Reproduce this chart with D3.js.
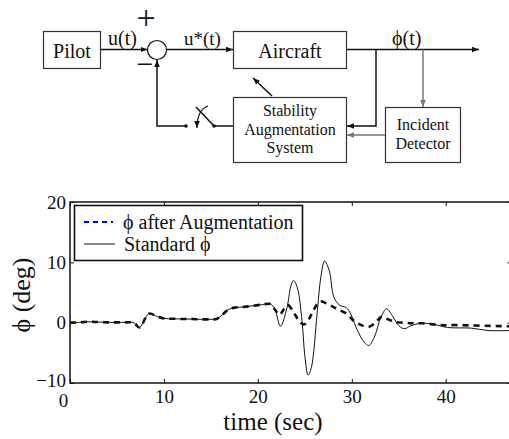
<!DOCTYPE html>
<html>
<head>
<meta charset="utf-8">
<script src="https://cdn.jsdelivr.net/npm/d3@7"></script>
<style>
  html, body { margin: 0; padding: 0; background: #fff; }
</style>
</head>
<body>
<svg id="fig" width="509" height="439"></svg>
<script>
// Roll angle response: standard vs. with stability augmentation
const timeStd = [0, 1, 2, 3, 4, 5, 6, 6.8, 7.4, 8.4, 9.3, 10, 11, 12, 13, 14, 15, 15.6, 16.2, 16.9, 17.6, 18.5, 19.5, 20.5, 21.3,
  21.8, 22.4, 23.1, 23.5, 23.8, 24.2, 24.7, 25.0, 25.35, 25.7, 26.3, 26.7, 27.1, 27.6, 28.1, 28.7, 29.4, 29.9, 30.6, 31.3,
  31.8, 32.4, 33.1, 33.7, 34.3, 35.0, 35.6, 36.3, 37.4, 38.8, 40.2, 42.7, 44.5, 47];
const phiStd = [0, 0.05, 0.15, 0.1, 0.05, 0.05, 0.05, 0, -0.8, 1.5, 1.0, 0.7, 0.65, 0.6, 0.6, 0.55, 0.55, 0.6, 1.3, 2.2, 2.5, 2.6, 2.8, 3.0, 3.1,
  2.3, -0.6, 2.5, 6.0, 7.0, 5.8, 0.3, -5.5, -8.7, -7.4, 1.4, 7.5, 10.2, 8.6, 4.2, 2.9, 2.5, 1.4, -1.3, -3.2,
  -3.8, -2.4, 0.9, 2.3, 1.2, -0.5, -1.0, -0.5, -0.1, -0.3, -0.8, -0.9, -1.3, -1.3];

const timeAug = [0, 1, 2, 3, 4, 5, 6, 6.8, 7.4, 8.4, 9.3, 10, 11, 12, 13, 14, 15, 15.6, 16.2, 16.9, 17.6, 18.5, 19.5, 20.5, 21.3,
  21.8, 22.3, 22.8, 23.2, 23.7, 24.3, 24.9, 25.4, 25.9, 26.6, 27.3, 28.4, 29.5, 30.2, 31.0, 31.8, 32.5, 33.2, 33.8, 34.6,
  35.5, 36.5, 37.5, 39.4, 41.2, 43.7, 47];
const phiAug = [0, 0.05, 0.15, 0.1, 0.05, 0.05, 0.05, 0, -0.8, 1.5, 1.0, 0.7, 0.65, 0.6, 0.6, 0.55, 0.55, 0.6, 1.3, 2.2, 2.5, 2.6, 2.8, 3.0, 3.1,
  2.2, 1.3, 2.3, 2.9, 2.0, 0.5, -0.3, 0.5, 2.0, 3.5, 3.2, 2.3, 1.4, 0.3, -0.4, -0.7, 0.0, 1.0, 0.6, 0.1,
  0.0, -0.1, -0.1, -0.4, -0.4, -0.5, -0.6];

const xTicks = [0, 10, 20, 30, 40];
const yTicks = [-10, 0, 10, 20];
const legendLabels = ["\u03d5 after Augmentation", "Standard \u03d5"];

const svg = d3.select("#fig");
const serif = "Liberation Serif";

// ---------- block diagram ----------
const diag = svg.append("g");
const ink = "#111", grey = "#777";

const defs = svg.append("defs");
function marker(id, color) {
  defs.append("marker").attr("id", id).attr("viewBox", "0 0 10 10")
    .attr("refX", 10).attr("refY", 5).attr("markerWidth", 7).attr("markerHeight", 7)
    .attr("markerUnits", "userSpaceOnUse").attr("orient", "auto")
    .append("path").attr("d", "M0,1 L10,5 L0,9 Z").attr("fill", color);
}
marker("arrK", ink);
marker("arrG", grey);

function box(x, y, w, h) {
  diag.append("rect").attr("x", x).attr("y", y).attr("width", w).attr("height", h)
    .attr("fill", "none").attr("stroke", "#333").attr("stroke-width", 1.2);
}
function wire(pts, color, arrow) {
  diag.append("path").attr("d", d3.line()(pts)).attr("fill", "none")
    .attr("stroke", color).attr("stroke-width", 1.5)
    .attr("marker-end", arrow ? `url(#${color === grey ? "arrG" : "arrK"})` : null);
}
function label(txt, x, y, size, anchor) {
  diag.append("text").attr("x", x).attr("y", y).attr("font-size", size)
    .attr("font-family", serif)
    .attr("text-anchor", anchor || "middle").attr("fill", ink).text(txt);
}

box(43.5, 31.5, 57, 37);
box(233.5, 31.5, 113, 37);
box(233.5, 97.5, 113, 65);
box(385.5, 107.5, 75, 55);

label("Pilot", 72, 58, 20);
label("Aircraft", 290, 58, 20);
label("Stability", 290, 116, 16);
label("Augmentation", 290, 135, 16);
label("System", 290, 153, 16);
label("Incident", 423, 130, 16);
label("Detector", 423, 149, 16);
label("u(t)", 108, 45, 20, "start");
label("u*(t)", 184, 45, 19, "start");
label("\u03d5(t)", 392, 45, 20, "start");
label("+", 146, 29, 34);
label("\u2212", 145, 74, 30);

// summing junction
diag.append("circle").attr("cx", 157).attr("cy", 50).attr("r", 9.5)
  .attr("fill", "none").attr("stroke", ink).attr("stroke-width", 1.2);

wire([[101, 49.5], [147.5, 49.5]], ink, true);
wire([[166.5, 49.5], [233, 49.5]], ink, true);
wire([[347, 49.5], [479, 49.5]], ink, true);
wire([[376, 49.5], [376, 126], [347, 126]], ink, true);
wire([[423, 49.5], [423, 107]], grey, true);
wire([[385, 135], [347, 135]], grey, true);
wire([[272, 96], [253, 78]], ink, true);
// feedback path through the engage switch
wire([[233, 126], [214, 126]], ink, false);
wire([[214, 126], [196, 107]], ink, false);
wire([[186, 126], [157, 126], [157, 60]], ink, true);
diag.append("circle").attr("cx", 186).attr("cy", 126).attr("r", 1.8).attr("fill", ink);
diag.append("circle").attr("cx", 214).attr("cy", 126).attr("r", 1.8).attr("fill", ink);
diag.append("path").attr("d", "M208,106 Q197,110 197,128").attr("fill", "none")
  .attr("stroke", ink).attr("stroke-width", 1.2).attr("marker-end", "url(#arrK)");

// ---------- time response plot ----------
const pL = 70, pR = 511.5, pT = 202, pB = 383;
const x = d3.scaleLinear().domain([0, 47]).range([pL, pR]);
const y = d3.scaleLinear().domain([-10, 20]).range([pB, pT]);

const plot = svg.append("g");

function styleAxis(g) {
  g.attr("font-family", serif).attr("font-size", 19);
  g.select(".domain").remove();
  g.selectAll(".tick line").attr("stroke", ink).attr("stroke-width", 1);
  g.selectAll(".tick text").attr("font-family", serif).attr("font-size", 19).attr("fill", ink);
}

plot.append("g").attr("transform", `translate(0,${pB})`)
  .call(d3.axisBottom(x).tickValues(xTicks).tickSize(-4).tickPadding(7).tickFormat(d3.format("d")))
  .call(styleAxis)
  .call(g => g.selectAll(".tick text").filter(d => d === 0).attr("dx", -7).attr("dy", "0.9em"));
plot.append("g").attr("transform", `translate(0,${pT})`)
  .call(d3.axisTop(x).tickValues(xTicks).tickSize(-4).tickFormat(""))
  .call(styleAxis);
plot.append("g").attr("transform", `translate(${pL},0)`)
  .call(d3.axisLeft(y).tickValues(yTicks).tickSize(-4).tickPadding(4)
    .tickFormat(d => d < 0 ? "\u2212" + Math.abs(d) : d))
  .call(styleAxis)
  .call(g => g.selectAll(".tick text").filter(d => d === -10).attr("dy", "0.2em"));
plot.append("g").attr("transform", `translate(${pR},0)`)
  .call(d3.axisRight(y).tickValues(yTicks).tickSize(-4).tickFormat(""))
  .call(styleAxis);

plot.append("rect").attr("x", pL).attr("y", pT).attr("width", pR - pL).attr("height", pB - pT)
  .attr("fill", "none").attr("stroke", ink).attr("stroke-width", 1.5);

const line = d3.line().x(d => x(d[0])).y(d => y(d[1])).curve(d3.curveCatmullRom.alpha(0.5));

plot.append("path").datum(d3.zip(timeStd, phiStd)).attr("d", line)
  .attr("fill", "none").attr("stroke", ink).attr("stroke-width", 1);
plot.append("path").datum(d3.zip(timeAug, phiAug)).attr("d", line)
  .attr("fill", "none").attr("stroke", ink).attr("stroke-width", 2.6).attr("stroke-dasharray", "6,5");

// legend
const lg = plot.append("g");
lg.append("rect").attr("x", 74.5).attr("y", 205.5).attr("width", 228).attr("height", 55)
  .attr("fill", "#fff").attr("stroke", ink).attr("stroke-width", 1.6);
lg.append("line").attr("x1", 84).attr("x2", 113).attr("y1", 222).attr("y2", 222)
  .attr("stroke", "#0000ff").attr("stroke-width", 2.2).attr("stroke-dasharray", "5,4");
lg.append("line").attr("x1", 84).attr("x2", 115).attr("y1", 244).attr("y2", 244)
  .attr("stroke", ink).attr("stroke-width", 1);
lg.selectAll("text.lab").data(legendLabels).join("text").attr("class", "lab")
  .attr("x", (d, i) => i === 0 ? 123 : 124).attr("y", (d, i) => i === 0 ? 229 : 251)
  .attr("font-family", serif).attr("font-size", 20).attr("fill", ink).text(d => d);

// axis titles
plot.append("text").attr("x", 273).attr("y", 430).attr("text-anchor", "middle")
  .attr("font-family", serif).attr("font-size", 25).attr("fill", ink).text("time (sec)");
plot.append("text").attr("transform", "translate(30,295) rotate(-90)").attr("text-anchor", "middle")
  .attr("font-family", serif).attr("font-size", 26).attr("fill", ink).text("\u03d5 (deg)");
</script>
</body>
</html>
